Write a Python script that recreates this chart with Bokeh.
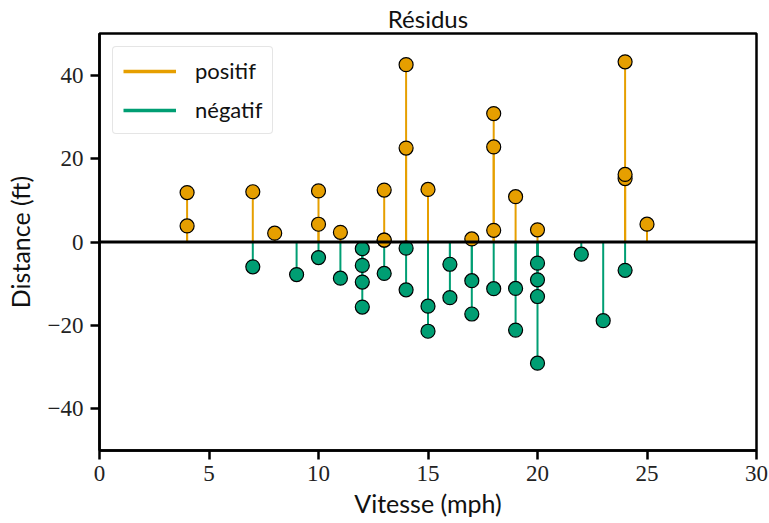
from bokeh.plotting import figure
from bokeh.models import Range1d, Legend, LegendItem, FixedTicker, Span
from bokeh.embed import file_html
from bokeh.resources import INLINE

speed = [4, 4, 7, 7, 8, 9, 10, 10, 10, 11, 11, 12, 12, 12, 12, 13, 13, 13, 13,
         14, 14, 14, 14, 15, 15, 15, 16, 16, 17, 17, 17, 18, 18, 18, 18, 19, 19,
         19, 20, 20, 20, 20, 20, 22, 23, 24, 24, 24, 24, 25]
residus = [3.85, 11.85, -5.95, 12.05, 2.12, -7.81, -3.74, 4.26, 12.26, -8.68,
           2.32, -15.61, -9.61, -5.61, -1.61, -7.54, 0.46, 0.46, 12.46, -11.47,
           -1.47, 22.53, 42.53, -21.40, -15.40, 12.60, -13.34, -5.34, -17.27,
           -9.27, 0.73, -11.20, 2.80, 22.80, 30.80, -21.13, -11.13, 10.87,
           -29.07, -13.07, -9.07, -5.07, 2.93, -2.93, -18.86, -6.79, 15.21,
           16.21, 43.21, 4.27]
x_ticks = [0, 5, 10, 15, 20, 25, 30]
y_ticks = [-40, -20, 0, 20, 40]

ORANGE = "#E69F00"
GREEN = "#009E73"

pos_x = [s for s, r in zip(speed, residus) if r >= 0]
pos_y = [r for r in residus if r >= 0]
neg_x = [s for s, r in zip(speed, residus) if r < 0]
neg_y = [r for r in residus if r < 0]

p = figure(frame_width=657, frame_height=417, output_backend="svg", toolbar_location=None,
           x_range=Range1d(0, 30), y_range=Range1d(-50, 50),
           min_border_left=99, min_border_right=12, min_border_top=33,
           min_border_bottom=70, title="Résidus")

p.title.align = "center"
p.title.text_font = "Lato"
p.title.text_font_size = "24px"
p.title.text_font_style = "normal"
p.title.text_color = "#111111"
p.title.offset = 0
p.title.standoff = 2

p.xgrid.visible = False
p.ygrid.visible = False
p.outline_line_color = "black"
p.outline_line_width = 2.5
p.outline_line_alpha = 1

for ax in (p.xaxis, p.yaxis):
    ax.axis_line_width = 2.5
    ax.major_tick_line_width = 2.5
    ax.major_tick_out = 9
    ax.major_tick_in = 0
    ax.minor_tick_line_color = None
    ax.major_label_text_font = "Liberation Serif"
    ax.major_label_text_font_size = "23px"
    ax.major_label_text_color = "#222222"
    ax.axis_label_text_font = "Lato"
    ax.axis_label_text_font_size = "25px"
    ax.axis_label_text_font_style = "normal"
    ax.axis_label_text_color = "#111111"

p.xaxis.ticker = FixedTicker(ticks=x_ticks)
p.yaxis.ticker = FixedTicker(ticks=y_ticks)
p.yaxis.major_label_overrides = {t: (("\u2212" + str(abs(t))) if t < 0 else str(t)) for t in y_ticks}
p.xaxis.axis_label = "Vitesse (mph)"
p.yaxis.axis_label = "Distance (ft)"
p.xaxis.axis_label_standoff = 4
p.yaxis.axis_label_standoff = 10
p.xaxis.major_label_standoff = 6
p.yaxis.major_label_standoff = 7

p.segment(x0=pos_x, y0=[0] * len(pos_x), x1=pos_x, y1=pos_y,
          line_color=ORANGE, line_width=2)
p.segment(x0=neg_x, y0=[0] * len(neg_x), x1=neg_x, y1=neg_y,
          line_color=GREEN, line_width=2)

# legend proxies (thicker lines, placed outside the visible range)
leg_pos = p.line(x=[-20, -19], y=[0, 0], line_color=ORANGE, line_width=3.5)
leg_neg = p.line(x=[-20, -19], y=[0, 0], line_color=GREEN, line_width=3.5)

p.add_layout(Span(location=0, dimension="width", line_color="black", line_width=3))

p.scatter(pos_x, pos_y, size=14, fill_color=ORANGE, line_color="black", line_width=1.2)
p.scatter(neg_x, neg_y, size=14, fill_color=GREEN, line_color="black", line_width=1.2)

legend = Legend(items=[LegendItem(label="positif", renderers=[leg_pos]),
                       LegendItem(label="négatif", renderers=[leg_neg])],
                location="top_left")
legend.label_text_font = "Lato"
legend.label_text_font_size = "22px"
legend.label_text_color = "#111111"
legend.glyph_width = 53
legend.glyph_height = 24
legend.label_height = 24
legend.label_standoff = 19
legend.spacing = 12
legend.padding = 10
legend.margin = 13
legend.border_line_color = "#cccccc"
legend.border_line_width = 1.5
legend.background_fill_alpha = 0.9
if hasattr(legend, "border_radius"):
    legend.border_radius = 4
p.add_layout(legend)

open("out.html", "w").write(file_html(p, INLINE))
